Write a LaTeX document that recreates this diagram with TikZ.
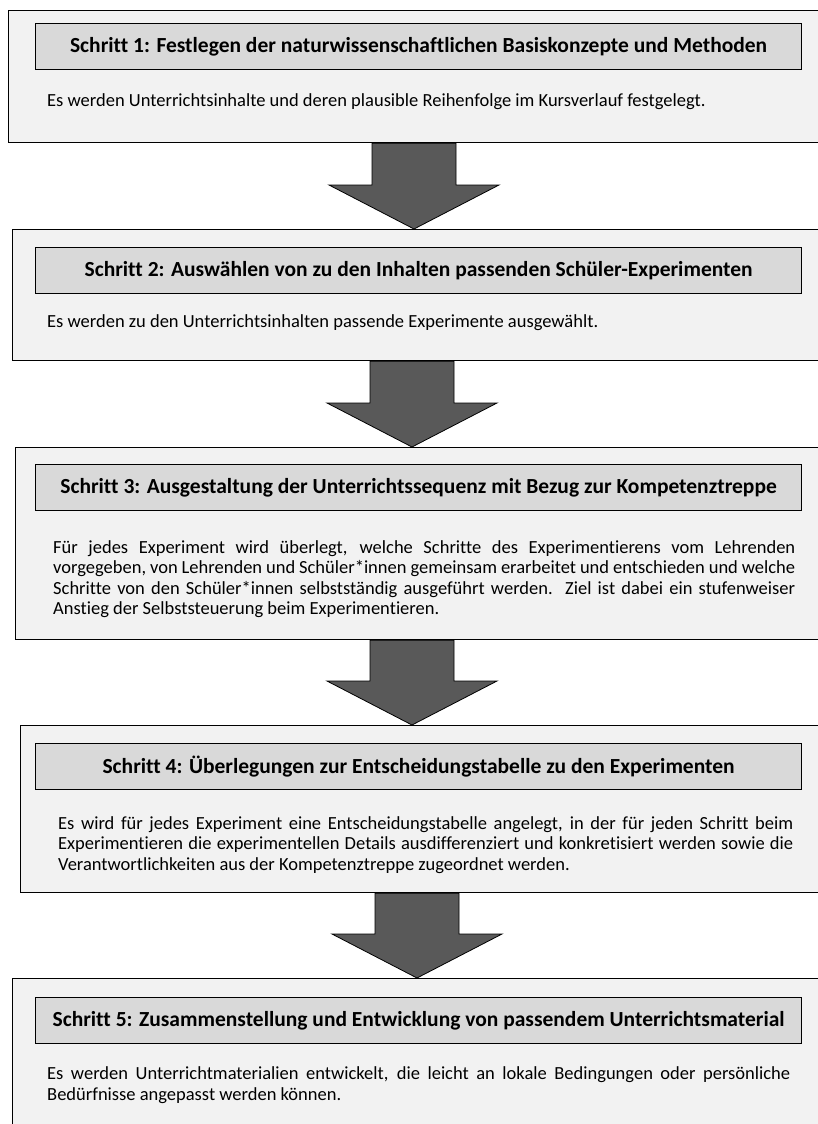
\documentclass[tikz,border=0pt]{standalone}
\usepackage{fontspec}
\setmainfont{Carlito}[Ligatures=NoCommon]
\usetikzlibrary{calc}
\definecolor{boxgray}{HTML}{F2F2F2}
\definecolor{headgray}{HTML}{D9D9D9}
\definecolor{arrowgray}{HTML}{595959}
\hyphenpenalty=10000
\exhyphenpenalty=10000
\tolerance=9999
\tikzset{
stepbox/.style={draw, fill=boxgray, line width=1.2pt, anchor=north west, inner sep=0pt},
headbox/.style={draw, fill=headgray, line width=1.2pt, anchor=north west,
	minimum width=766pt, minimum height=46pt, inner sep=0pt,
	font=\fontsize{21.5}{25}\selectfont\bfseries},
bodytext/.style={anchor=west, inner sep=0pt, align=justify,
	font=\fontsize{18.5}{20.5}\selectfont},
steparrow/.style={draw, fill=arrowgray, line width=0.8pt, line join=miter}
}
% block arrow from box #1 down to box #2, centred at x=#3
\newcommand{\steparrow}[3]{
	\coordinate (neck) at ($(#2.north)+(0,-44)$);
	\draw[steparrow] (#3-42,0 |- #1.south) -- (#3-42,0 |- neck) -- (#3-85,0 |- neck)
		-- (#3,0 |- #2.north) -- (#3+85,0 |- neck) -- (#3+42,0 |- neck)
		-- (#3+42,0 |- #1.south) -- cycle;
}

\begin{document}
\begin{tikzpicture}[x=1pt, y=-1pt]
	\clip (0,0) rectangle (818,1124);
	\fill[white] (0,0) rectangle (818,1124);

	% Schritt 1
	\node[stepbox, minimum width=822pt, minimum height=132pt] (s1) at (8,10) {};
	\node[headbox] (h1) at (35,23) {Schritt 1: Festlegen der naturwissenschaftlichen Basiskonzepte und Methoden};
	\node[bodytext] (t1) at (47,102) {Es werden Unterrichtsinhalte und deren plausible Reihenfolge im Kursverlauf festgelegt.};

	% Schritt 2
	\node[stepbox, minimum width=818pt, minimum height=131pt] (s2) at (12,229) {};
	\node[headbox] (h2) at (35,247) {Schritt 2: Auswählen von zu den Inhalten passenden Schüler-Experimenten};
	\node[bodytext] (t2) at (47,323) {Es werden zu den Unterrichtsinhalten passende Experimente ausgewählt.};

	% Schritt 3
	\node[stepbox, minimum width=815pt, minimum height=192pt] (s3) at (15,447) {};
	\node[headbox] (h3) at (35,464) {Schritt 3: Ausgestaltung der Unterrichtssequenz mit Bezug zur Kompetenztreppe};
	\node[bodytext, text width=742pt] (t3) at (53,579) {Für jedes Experiment wird überlegt, welche Schritte des Experimentierens vom Lehrenden\linebreak
		vorgegeben, von Lehrenden und Schüler*innen gemeinsam erarbeitet und entschieden und welche\linebreak
		Schritte von den Schüler*innen selbstständig ausgeführt werden.\ \ Ziel ist dabei ein stufenweiser\linebreak
		Anstieg der Selbststeuerung beim Experimentieren.};

	% Schritt 4
	\node[stepbox, minimum width=810pt, minimum height=167pt] (s4) at (20,725) {};
	\node[headbox] (h4) at (35,743) {Schritt 4: Überlegungen zur Entscheidungstabelle zu den Experimenten};
	\node[bodytext, text width=735pt] (t4) at (58,845) {Es wird für jedes Experiment eine Entscheidungstabelle angelegt, in der für jeden Schritt beim\linebreak
		Experimentieren die experimentellen Details ausdifferenziert und konkretisiert werden sowie die\linebreak
		Verantwortlichkeiten aus der Kompetenztreppe zugeordnet werden.};

	% Schritt 5
	\node[stepbox, minimum width=818pt, minimum height=170pt] (s5) at (12,978) {};
	\node[headbox] (h5) at (35,997) {Schritt 5: Zusammenstellung und Entwicklung von passendem Unterrichtsmaterial};
	\node[bodytext, text width=743pt] (t5) at (47,1085) {Es werden Unterrichtmaterialien entwickelt, die leicht an lokale Bedingungen oder persönliche\linebreak
		Bedürfnisse angepasst werden können.};

	% arrows between the steps
	\steparrow{s1}{s2}{414}
	\steparrow{s2}{s3}{412}
	\steparrow{s3}{s4}{412}
	\steparrow{s4}{s5}{417}
\end{tikzpicture}
\end{document}
